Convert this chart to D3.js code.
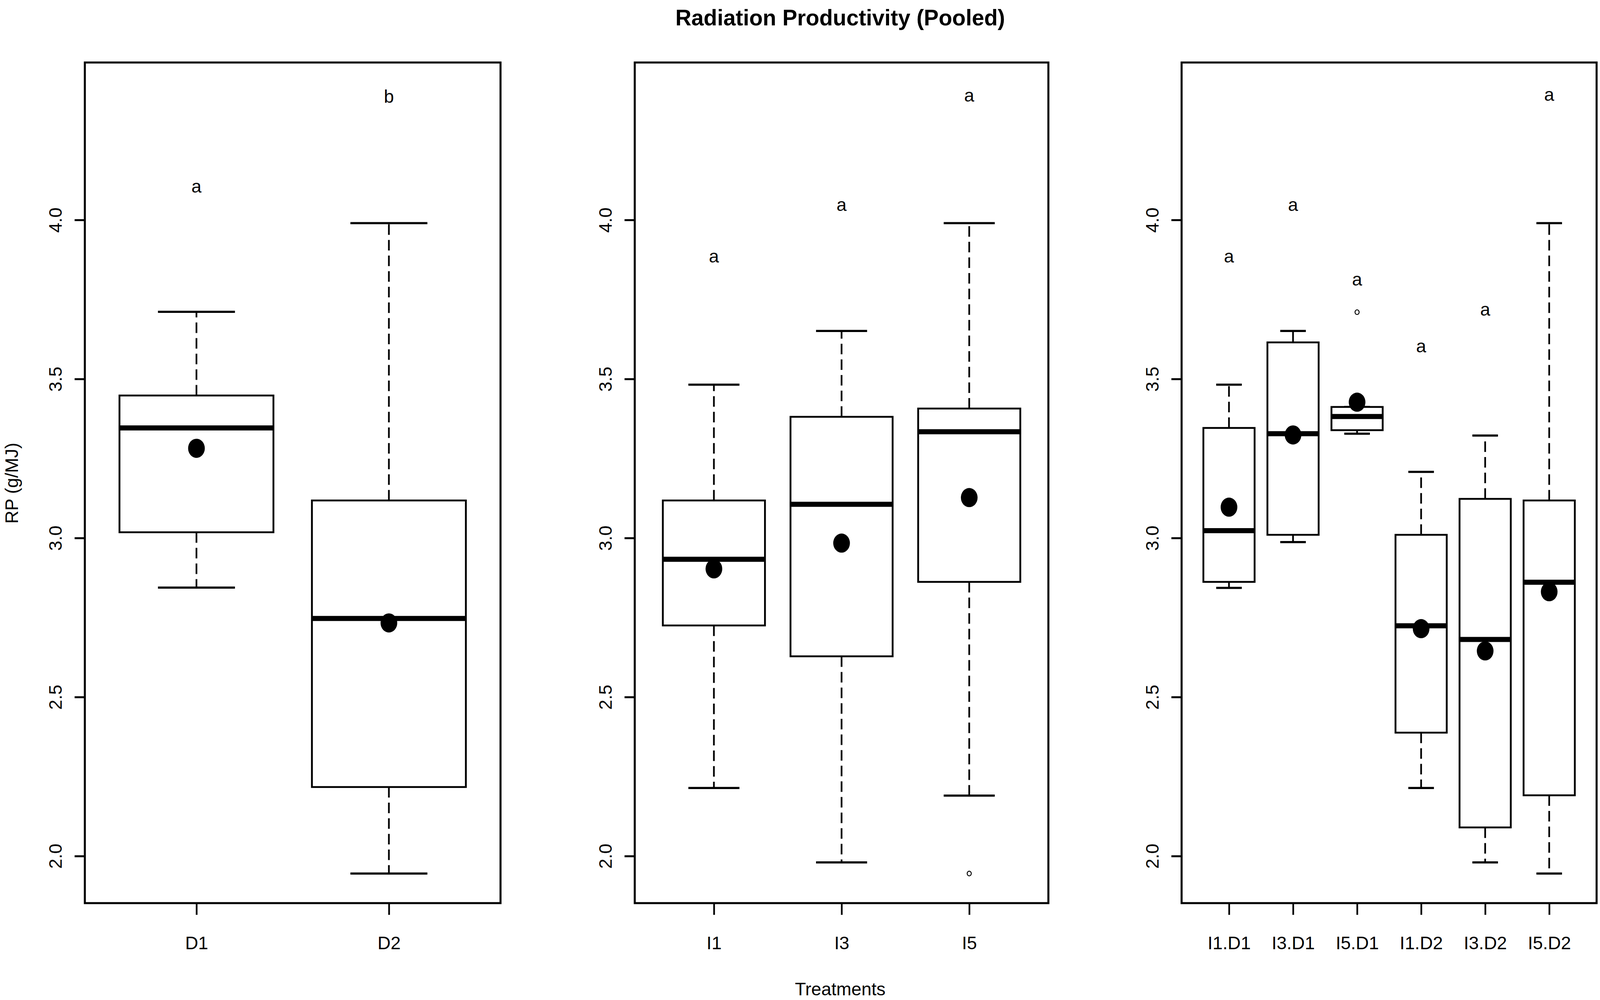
<!DOCTYPE html>
<html>
<head>
<meta charset="utf-8">
<script src="https://cdn.jsdelivr.net/npm/d3@7"></script>
<style>
  html, body { margin: 0; padding: 0; background: #fff; overflow: hidden; }
  svg { display: block; }
  text { font-family: "Liberation Sans", Arial, "DejaVu Sans", sans-serif; fill: #000; }
</style>
</head>
<body>
<svg id="chart"></svg>
<script>
// ---------------- DATA ----------------
const chartTitle = "Radiation Productivity (Pooled)";
const xTitle = "Treatments";
const yTitle = "RP (g/MJ)";
const yTicks = [2.0, 2.5, 3.0, 3.5, 4.0];
const yDomain = [1.852, 4.495];

// Panel 1: dates
const p1Categories = ["D1", "D2"];
const p1Lower  = [2.844, 1.945];
const p1Q1     = [3.018, 2.217];
const p1Median = [3.346, 2.747];
const p1Q3     = [3.448, 3.118];
const p1Upper  = [3.711, 3.990];
const p1Mean   = [3.282, 2.733];
const p1Letters = ["a", "b"];
const p1LetterY = [4.103, 4.386];
const p1Outliers = [];

// Panel 2: irrigation
const p2Categories = ["I1", "I3", "I5"];
const p2Lower  = [2.214, 1.980, 2.190];
const p2Q1     = [2.725, 2.628, 2.862];
const p2Median = [2.933, 3.106, 3.334];
const p2Q3     = [3.118, 3.381, 3.407];
const p2Upper  = [3.482, 3.651, 3.990];
const p2Mean   = [2.903, 2.984, 3.127];
const p2Letters = ["a", "a", "a"];
const p2LetterY = [3.883, 4.045, 4.389];
const p2Outliers = [[3, 1.945]];

// Panel 3: interaction
const p3Categories = ["I1.D1", "I3.D1", "I5.D1", "I1.D2", "I3.D2", "I5.D2"];
const p3Lower  = [2.843, 2.987, 3.328, 2.214, 1.980, 1.945];
const p3Q1     = [2.862, 3.010, 3.339, 2.388, 2.090, 2.191];
const p3Median = [3.023, 3.328, 3.382, 2.724, 2.681, 2.861];
const p3Q3     = [3.346, 3.615, 3.412, 3.010, 3.123, 3.118];
const p3Upper  = [3.482, 3.651, 3.412, 3.208, 3.322, 3.990];
const p3Mean   = [3.097, 3.324, 3.427, 2.715, 2.645, 2.831];
const p3Letters = ["a", "a", "a", "a", "a", "a"];
const p3LetterY = [3.883, 4.045, 3.811, 3.601, 3.716, 4.392];
const p3Outliers = [[3, 3.710]];

// ---------------- LAYOUT (reference frame 4696 x 2560, fitted to the window) ----------------
const REF_W = 4696, REF_H = 2560;
const vw = window.innerWidth || REF_W;
const vh = window.innerHeight || REF_H;
const sx = vw / REF_W, sy = vh / REF_H;
const sm = (sx + sy) / 2;
const X = v => v * sx, Y = v => v * sy;

const plotTop = 160, plotBottom = 2312;
const fontPx = 53 * sx;
const titlePx = 65 * sx;

const panels = [
  { left: 249,  right: 1469, cats: p1Categories, lo: p1Lower, q1: p1Q1, med: p1Median, q3: p1Q3, hi: p1Upper, mean: p1Mean, letters: p1Letters, letterY: p1LetterY, out: p1Outliers },
  { left: 1863, right: 3077, cats: p2Categories, lo: p2Lower, q1: p2Q1, med: p2Median, q3: p2Q3, hi: p2Upper, mean: p2Mean, letters: p2Letters, letterY: p2LetterY, out: p2Outliers },
  { left: 3468, right: 4686, cats: p3Categories, lo: p3Lower, q1: p3Q1, med: p3Median, q3: p3Q3, hi: p3Upper, mean: p3Mean, letters: p3Letters, letterY: p3LetterY, out: p3Outliers }
];

const svg = d3.select("#chart").attr("width", vw).attr("height", vh);
svg.append("rect").attr("width", vw).attr("height", vh).attr("fill", "#fff");

const y = d3.scaleLinear().domain(yDomain).range([Y(plotBottom), Y(plotTop)]);

const lwH = 5 * sy;   // thickness of horizontal lines
const lwV = 5 * sx;   // thickness of vertical lines
const dash = `${27 * sy},${13 * sy}`;

panels.forEach(p => {
  const n = p.cats.length;
  const idx = d3.range(1, n + 1);
  const x = d3.scaleLinear()
    .domain([0.5 - 0.04 * n, n + 0.5 + 0.04 * n])
    .range([X(p.left), X(p.right)]);
  const g = svg.append("g");
  const k = i => i - 1;

  // Y axis
  const ya = g.append("g")
    .attr("transform", `translate(${X(p.left)},0)`)
    .call(d3.axisLeft(y).tickValues(yTicks).tickFormat(d3.format(".1f")).tickSize(X(30)).tickSizeOuter(0));
  ya.select(".domain").remove();
  ya.selectAll(".tick line").attr("stroke", "#000").attr("stroke-width", lwH);
  ya.selectAll(".tick text")
    .attr("x", null).attr("dy", null)
    .attr("transform", `translate(${-X(68)},0) rotate(-90)`)
    .attr("text-anchor", "middle")
    .style("font-size", fontPx + "px")
    .style("font-family", "'Liberation Sans', Arial, sans-serif")
    .attr("fill", "#000");

  // X axis
  const xa = g.append("g")
    .attr("transform", `translate(0,${Y(plotBottom)})`)
    .call(d3.axisBottom(x).tickValues(idx).tickFormat(i => p.cats[i - 1]).tickSize(Y(30)).tickSizeOuter(0));
  xa.select(".domain").remove();
  xa.selectAll(".tick line").attr("stroke", "#000").attr("stroke-width", lwV);
  xa.selectAll(".tick text")
    .attr("y", Y(118)).attr("dy", null)
    .attr("text-anchor", "middle")
    .style("font-size", fontPx + "px")
    .style("font-family", "'Liberation Sans', Arial, sans-serif")
    .attr("fill", "#000");

  const boxes = g.append("g").selectAll("g").data(idx).join("g");

  // whiskers (dashed)
  boxes.append("line")
    .attr("x1", i => x(i)).attr("x2", i => x(i))
    .attr("y1", i => y(p.q3[k(i)])).attr("y2", i => y(p.hi[k(i)]))
    .attr("stroke", "#000").attr("stroke-width", lwV).attr("stroke-dasharray", dash);
  boxes.append("line")
    .attr("x1", i => x(i)).attr("x2", i => x(i))
    .attr("y1", i => y(p.q1[k(i)])).attr("y2", i => y(p.lo[k(i)]))
    .attr("stroke", "#000").attr("stroke-width", lwV).attr("stroke-dasharray", dash);
  // staples
  boxes.append("line")
    .attr("x1", i => x(i - 0.2)).attr("x2", i => x(i + 0.2))
    .attr("y1", i => y(p.hi[k(i)])).attr("y2", i => y(p.hi[k(i)]))
    .attr("stroke", "#000").attr("stroke-width", 5.5 * sy);
  boxes.append("line")
    .attr("x1", i => x(i - 0.2)).attr("x2", i => x(i + 0.2))
    .attr("y1", i => y(p.lo[k(i)])).attr("y2", i => y(p.lo[k(i)]))
    .attr("stroke", "#000").attr("stroke-width", 5.5 * sy);
  // boxes
  boxes.append("rect")
    .attr("x", i => x(i - 0.4))
    .attr("width", i => x(i + 0.4) - x(i - 0.4))
    .attr("y", i => y(p.q3[k(i)]))
    .attr("height", i => y(p.q1[k(i)]) - y(p.q3[k(i)]))
    .attr("fill", "#fff").attr("stroke", "#000").attr("stroke-width", 5 * sm);
  // medians
  boxes.append("line")
    .attr("x1", i => x(i - 0.4)).attr("x2", i => x(i + 0.4))
    .attr("y1", i => y(p.med[k(i)])).attr("y2", i => y(p.med[k(i)]))
    .attr("stroke", "#000").attr("stroke-width", 13 * sy).attr("stroke-linecap", "butt");

  // outliers
  g.append("g").selectAll("ellipse").data(p.out).join("ellipse")
    .attr("cx", d => x(d[0])).attr("cy", d => y(d[1]))
    .attr("rx", 6 * sx).attr("ry", 6 * sy)
    .attr("fill", "none").attr("stroke", "#000").attr("stroke-width", 2.5 * sm);

  // means
  g.append("g").selectAll("ellipse").data(idx).join("ellipse")
    .attr("cx", i => x(i)).attr("cy", i => y(p.mean[k(i)]))
    .attr("rx", 24.5 * sx).attr("ry", 24.5 * sy)
    .attr("fill", "#000");

  // significance letters
  g.append("g").selectAll("text").data(idx).join("text")
    .attr("x", i => x(i)).attr("y", i => y(p.letterY[k(i)]) + 14 * sy)
    .attr("text-anchor", "middle")
    .style("font-size", fontPx + "px")
    .text(i => p.letters[k(i)]);

  // frame
  g.append("rect")
    .attr("x", X(p.left)).attr("y", Y(plotTop))
    .attr("width", X(p.right) - X(p.left)).attr("height", Y(plotBottom) - Y(plotTop))
    .attr("fill", "none").attr("stroke", "#000").attr("stroke-width", 5.5 * sm);
});

// titles
svg.append("text")
  .attr("x", X(2466)).attr("y", Y(65))
  .attr("text-anchor", "middle")
  .style("font-size", titlePx + "px").style("font-weight", "bold")
  .text(chartTitle);

svg.append("text")
  .attr("x", X(2466)).attr("y", Math.min(Y(2548), vh - 0.26 * fontPx))
  .attr("text-anchor", "middle")
  .style("font-size", fontPx + "px")
  .text(xTitle);

svg.append("text")
  .attr("transform", `translate(${X(53)},${Y(1237)}) rotate(-90)`)
  .attr("text-anchor", "middle")
  .style("font-size", fontPx + "px")
  .text(yTitle);
</script>
</body>
</html>
